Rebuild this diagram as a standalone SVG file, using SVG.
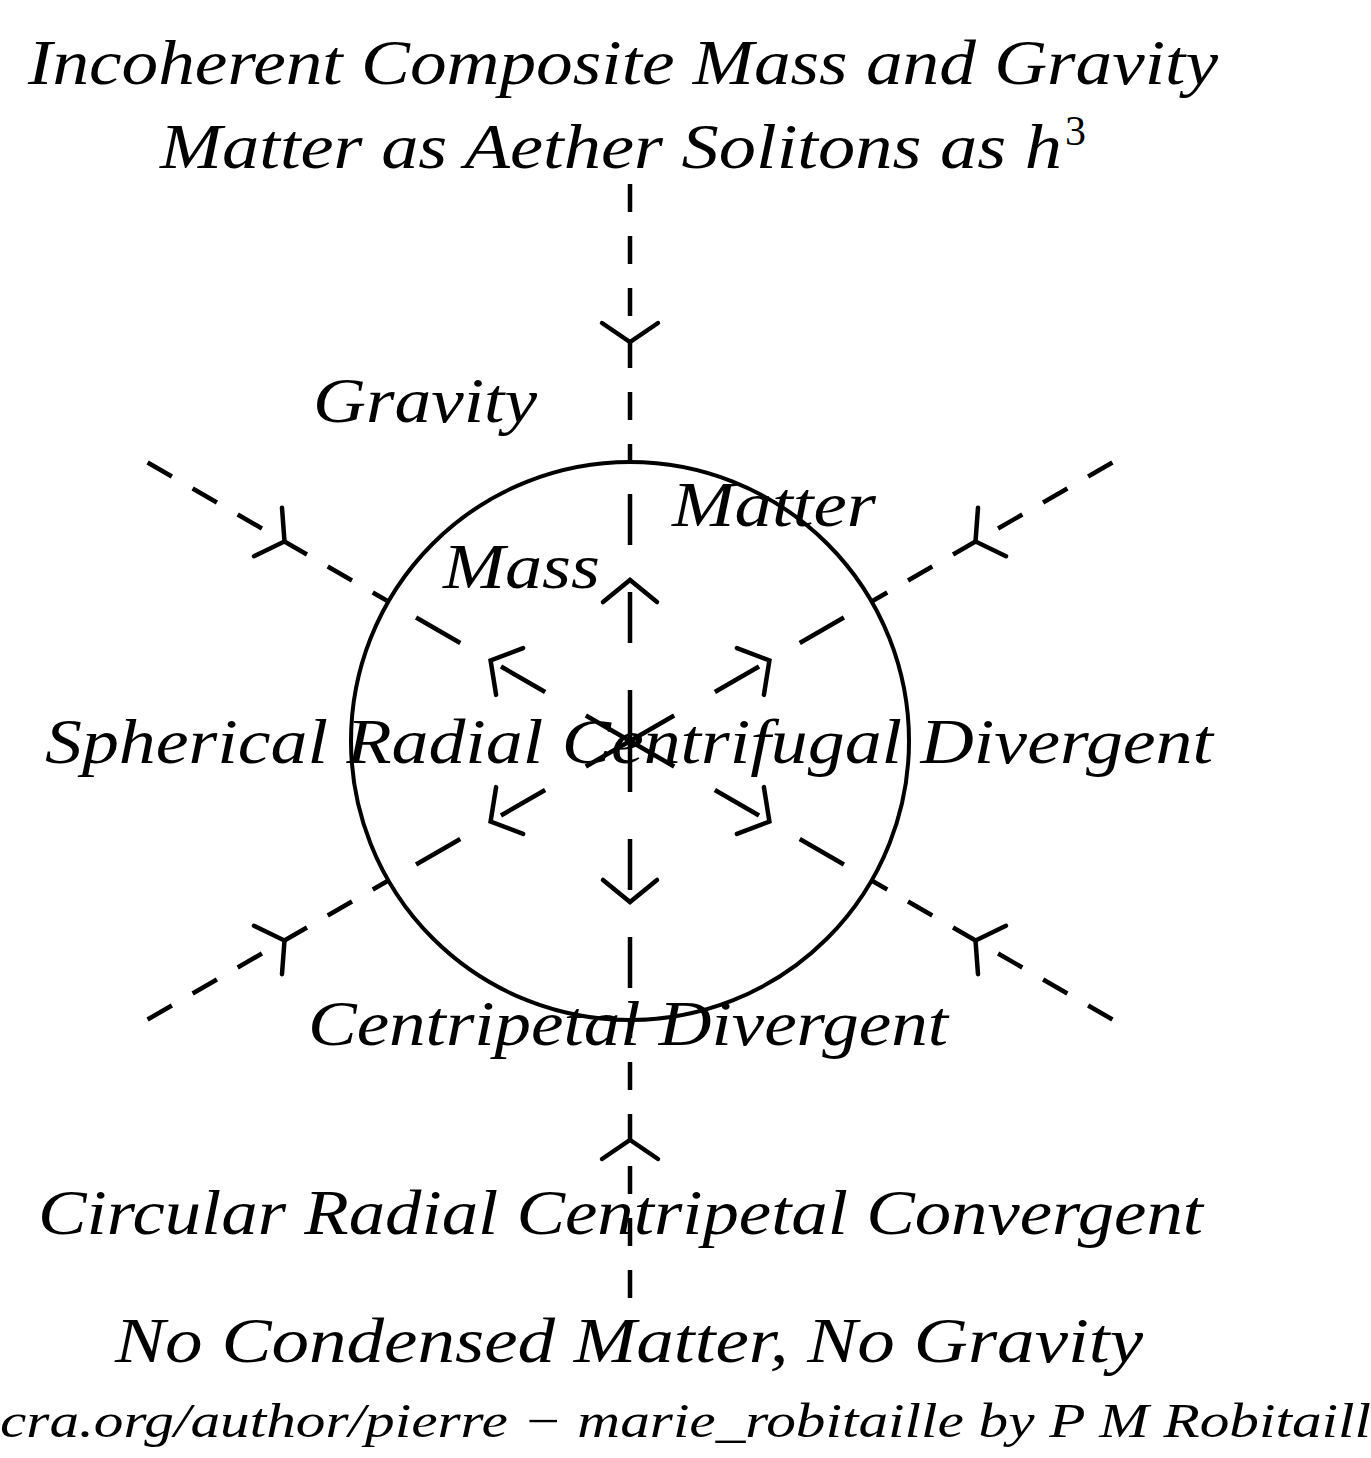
<svg xmlns="http://www.w3.org/2000/svg" width="1371" height="1458" viewBox="0 0 1371 1458">
<style>
.t{font-family:'Times New Roman','Liberation Serif','DejaVu Serif',serif;font-style:italic;font-size:63px;fill:#000}
.f{font-size:48px}
.od{fill:none;stroke:#000;stroke-width:4.5;stroke-dasharray:28 24}
.id{fill:none;stroke:#000;stroke-width:4.5;stroke-dasharray:51 47}
.ar{fill:none;stroke:#000;stroke-width:4.5;stroke-linecap:round;stroke-linejoin:miter}
.c{fill:none;stroke:#000;stroke-width:4}
</style>
<rect width="1371" height="1458" fill="#fff"/>
<g id="sphere">
<circle class="c" cx="630" cy="741" r="279"/>
</g>
<g id="connectors">
<path class="od" d="M630,184 L630,462"/>
<path class="od" d="M630,1298 L630,1020"/>
<path class="od" d="M1112.4,462.5 L871.6,601.5"/>
<path class="od" d="M1112.4,1019.5 L871.6,880.5"/>
<path class="od" d="M147.6,462.5 L388.4,601.5"/>
<path class="od" d="M147.6,1019.5 L388.4,880.5"/>
<path class="id" d="M630,741 L630,462"/>
<path class="id" d="M630,741 L630,1020"/>
<path class="id" d="M630,741 L871.6,601.5"/>
<path class="id" d="M630,741 L871.6,880.5"/>
<path class="id" d="M630,741 L388.4,601.5"/>
<path class="id" d="M630,741 L388.4,880.5"/>
<path class="ar" d="M602,323 L630,342 L658,323"/>
<path class="ar" d="M602,1159 L630,1140 L658,1159"/>
<path class="ar" d="M978,507.8 L975.5,541.5 L1006,556.2"/>
<path class="ar" d="M978,974.2 L975.5,940.5 L1006,925.8"/>
<path class="ar" d="M282,507.8 L284.5,541.5 L254,556.2"/>
<path class="ar" d="M282,974.2 L284.5,940.5 L254,925.8"/>
<path class="ar" d="M603,602 L630,580 L657,602"/>
<path class="ar" d="M603,880 L630,902 L657,880"/>
<path class="ar" d="M736.9,648.1 L769.4,660.5 L763.9,694.9"/>
<path class="ar" d="M736.9,833.9 L769.4,821.5 L763.9,787.1"/>
<path class="ar" d="M523.1,648.1 L490.6,660.5 L496.1,694.9"/>
<path class="ar" d="M523.1,833.9 L490.6,821.5 L496.1,787.1"/>
</g>
<g id="labels">
<text id="title1" class="t" x="28" y="84" textLength="1190" lengthAdjust="spacingAndGlyphs">Incoherent Composite Mass and Gravity</text>
<text id="title2" class="t" x="160" y="168"><tspan textLength="902" lengthAdjust="spacingAndGlyphs">Matter as Aether Solitons as h</tspan><tspan x="1065" y="145" font-size="42" font-style="normal">3</tspan></text>
<text id="gravity" class="t" x="313" y="422" textLength="224" lengthAdjust="spacingAndGlyphs">Gravity</text>
<text id="matter" class="t" x="672" y="526" textLength="204" lengthAdjust="spacingAndGlyphs">Matter</text>
<text id="mass" class="t" x="443" y="588" textLength="157" lengthAdjust="spacingAndGlyphs">Mass</text>
<text id="spherical" class="t" x="45" y="763" textLength="1168" lengthAdjust="spacingAndGlyphs">Spherical Radial Centrifugal Divergent</text>
<text id="centripetal" class="t" x="308" y="1045" textLength="640" lengthAdjust="spacingAndGlyphs">Centripetal Divergent</text>
<text id="circular" class="t" x="38" y="1234" textLength="1165" lengthAdjust="spacingAndGlyphs">Circular Radial Centripetal Convergent</text>
<text id="nocondensed" class="t" x="115" y="1362" textLength="1028" lengthAdjust="spacingAndGlyphs">No Condensed Matter, No Gravity</text>
<text id="footer" class="t f" x="0" y="1437" textLength="1371" lengthAdjust="spacingAndGlyphs">cra.org/author/pierre − marie_robitaille by P M Robitaill</text>
</g>
</svg>
